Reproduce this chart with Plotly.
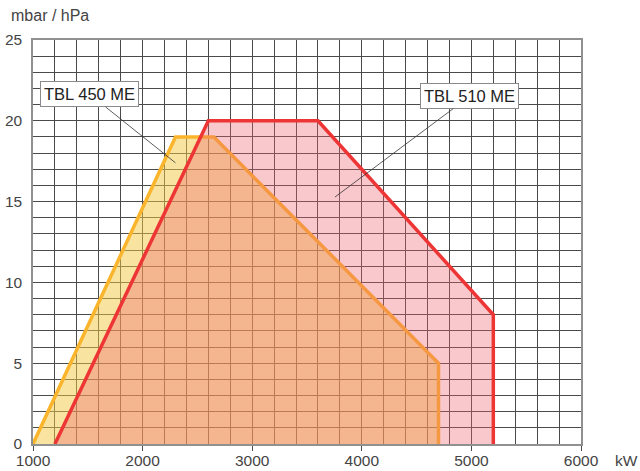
import plotly.graph_objects as go

# Campo di lavoro dei bruciatori (potenza kW / pressione camera mbar)
kw_450 = [1000, 2300, 2650, 4700, 4700]
mbar_450 = [0, 19, 19, 5, 0]

kw_510 = [1200, 2600, 3600, 5200, 5200]
mbar_510 = [0, 20, 20, 8, 0]

x_ticks = [1000, 2000, 3000, 4000, 5000, 6000]
y_ticks = [0, 5, 10, 15, 20, 25]

label_450 = "TBL 450 ME"
label_510 = "TBL 510 ME"

grid_col = "#4a4a4a"
tick_font = dict(family="Liberation Sans, Arial", size=15.5, color="#444444")

fig = go.Figure()

# prima il 450 (giallo), poi il 510 (rosa trasparente sopra)
fig.add_trace(go.Scatter(
    x=kw_450, y=mbar_450, mode="lines", fill="toself",
    fillcolor="rgba(241,199,65,0.5)",
    line=dict(color="#fbb52c", width=3.5),
    hoverinfo="skip", showlegend=False,
))
fig.add_trace(go.Scatter(
    x=kw_510, y=mbar_510, mode="lines", fill="toself",
    fillcolor="rgba(238,98,109,0.35)",
    line=dict(color="#ee3535", width=3.5),
    hoverinfo="skip", showlegend=False,
))

box = dict(showarrow=True, arrowhead=0, arrowwidth=0.8, arrowcolor="#333333",
           axref="x", ayref="y", bgcolor="white", bordercolor="#8a8a8a",
           borderwidth=1, borderpad=3,
           font=dict(family="Liberation Sans, Arial", size=16.5, color="#222222"))

fig.add_annotation(x=2300, y=17.4, ax=1520, ay=21.63, text=label_450, **box)
fig.add_annotation(x=3755, y=15.28, ax=4987, ay=21.53, text=label_510, **box)

fig.add_annotation(x=-0.044, y=1.035, xref="paper", yref="paper", xanchor="left", yanchor="bottom",
                   text="mbar / hPa", showarrow=False,
                   font=dict(family="Liberation Sans, Arial", size=16, color="#444444"))
fig.add_annotation(x=1.058, y=-0.042, xref="paper", yref="paper", xanchor="left", yanchor="middle",
                   text="kW", showarrow=False, font=tick_font)

fig.update_xaxes(
    range=[1000, 6000], tickvals=x_ticks, ticks="outside", ticklen=5, tickcolor=grid_col,
    showgrid=True, gridcolor=grid_col, gridwidth=1,
    minor=dict(dtick=200, showgrid=True, gridcolor=grid_col, gridwidth=1),
    showline=True, linecolor="#909090", linewidth=1.5, mirror=True,
    zeroline=False, tickfont=tick_font, ticklabelstandoff=-3, automargin=False,
)
fig.update_yaxes(
    range=[0, 25], tickvals=y_ticks,
    showgrid=True, gridcolor=grid_col, gridwidth=1,
    minor=dict(dtick=1, showgrid=True, gridcolor=grid_col, gridwidth=1),
    showline=True, linecolor="#909090", linewidth=1.5, mirror=True,
    zeroline=False, tickfont=tick_font, ticklabelstandoff=6, automargin=False,
)

fig.update_layout(
    width=640, height=471,
    margin=dict(l=33, r=59, t=40, b=27),
    plot_bgcolor="white", paper_bgcolor="white",
)

# niente margine della pagina, il grafico parte dall'angolo
fig.write_html("out.html", config={"displayModeBar": False},
               post_script="document.body.style.margin='0';")
